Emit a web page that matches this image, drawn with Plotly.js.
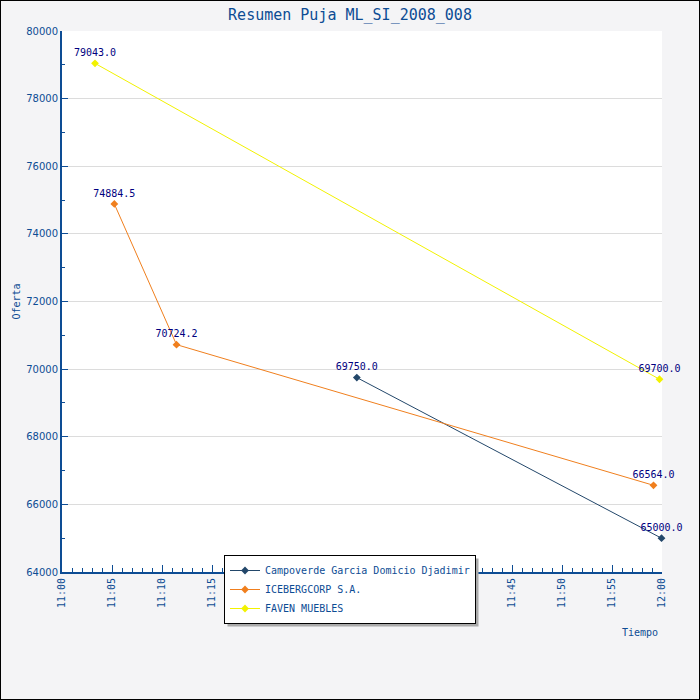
<!DOCTYPE html>
<html>
<head>
<meta charset="utf-8">
<script src="https://cdn.plot.ly/plotly-3.0.1.min.js"></script>
<style>
  html, body { margin: 0; padding: 0; background: #fff; }
  #chart { width: 698px; height: 698px; border: 1px solid #000; }
</style>
</head>
<body>
<div id="chart"></div>
<script>
const DAY = "2008-01-01 ";
const names = ["Campoverde Garcia Domicio Djadimir", "ICEBERGCORP S.A.", "FAVEN MUEBLES"];
const colors = ["#23476a", "#f07f1e", "#f2f200"];

// bid times and offers per bidder
const times_campoverde = ["11:29:29", "11:59:57"];
const offers_campoverde = [69750.0, 65000.0];
const times_iceberg = ["11:05:14", "11:11:27", "11:59:09"];
const offers_iceberg = [74884.5, 70724.2, 66564.0];
const times_faven = ["11:03:18", "11:59:45"];
const offers_faven = [79043.0, 69700.0];

const series = [
  [times_campoverde, offers_campoverde],
  [times_iceberg, offers_iceberg],
  [times_faven, offers_faven],
];

const MONO = "DejaVu Sans Mono, monospace";
const SANS = "DejaVu Sans, sans-serif";
const AXIS_BLUE = "#0d4c94";
const ML = 61, MT = 30, PW = 600, PH = 541;

var data = series.map(function (s, i) {
  return {
    type: "scatter",
    mode: "lines+markers+text",
    name: names[i],
    x: s[0].map(t => DAY + t),
    y: s[1],
    text: s[1].map(v => v.toFixed(1)),
    textposition: "top center",
    textfont: { family: MONO, size: 10, color: "#000080" },
    line: { color: colors[i], width: 1 },
    marker: { symbol: "diamond", size: 6, color: colors[i] },
    cliponaxis: false,
  };
});

var layout = {
  width: 698,
  height: 698,
  margin: { l: ML, r: 698 - ML - PW, t: MT, b: 698 - MT - PH },
  paper_bgcolor: "#f4f4f6",
  plot_bgcolor: "#ffffff",
  font: { family: MONO, color: AXIS_BLUE, size: 10 },
  title: {
    text: "Resumen Puja ML_SI_2008_008",
    font: { family: MONO, size: 15, color: AXIS_BLUE },
    x: 0.5, xanchor: "center", y: 0.981, yanchor: "middle",
  },
  xaxis: {
    type: "date",
    range: [DAY + "11:00", DAY + "12:00"],
    dtick: 300000,
    tick0: DAY + "11:00",
    tickformat: "%H:%M",
    tickangle: -90,
    ticks: "inside",
    ticklen: 7,
    tickcolor: AXIS_BLUE,
    minor: { dtick: 60000, ticks: "inside", ticklen: 4, tickcolor: AXIS_BLUE },
    showgrid: false,
    showline: true,
    linecolor: AXIS_BLUE,
    linewidth: 2,
    zeroline: false,
    tickfont: { family: MONO, size: 10, color: AXIS_BLUE },
  },
  yaxis: {
    range: [64000, 80000],
    dtick: 2000,
    tickformat: "d",
    ticks: "inside",
    ticklen: 6,
    tickcolor: AXIS_BLUE,
    minor: { dtick: 1000, ticks: "inside", ticklen: 3, tickcolor: AXIS_BLUE, showgrid: false },
    showgrid: true,
    gridcolor: "#dcdcdc",
    showline: true,
    linecolor: AXIS_BLUE,
    linewidth: 2,
    zeroline: false,
    tickfont: { family: SANS, size: 10, color: AXIS_BLUE },
    title: { text: "Oferta", font: { family: MONO, size: 10, color: AXIS_BLUE }, standoff: 4 },
  },
  showlegend: true,
  legend: {
    x: (223 - ML) / PW, xanchor: "left",
    y: (MT + PH - 554) / PH, yanchor: "top",
    bgcolor: "#ffffff",
    bordercolor: "#000000",
    borderwidth: 1,
    font: { family: MONO, size: 10, color: AXIS_BLUE },
    itemwidth: 30,
  },
  annotations: [{
    text: "Tiempo", xref: "paper", yref: "paper",
    x: 0.997, xanchor: "right", y: -60 / PH, yanchor: "middle",
    showarrow: false,
    font: { family: MONO, size: 10, color: AXIS_BLUE },
  }],
};

Plotly.newPlot("chart", data, layout, { staticPlot: true }).then(function (gd) {
  // drop shadow behind the legend box, sized from the drawn legend
  var box = gd.querySelector(".legend .bg").getBoundingClientRect();
  var root = gd.getBoundingClientRect();
  var l = box.left - root.left - 1 + 3, r = box.right - root.left - 1 + 3;
  var t = box.top - root.top - 1 + 3, b = box.bottom - root.top - 1 + 3;
  Plotly.relayout(gd, {
    shapes: [{
      type: "rect", xref: "paper", yref: "paper", layer: "above",
      x0: (l - ML) / PW, x1: (r - ML) / PW,
      y0: (MT + PH - b) / PH, y1: (MT + PH - t) / PH,
      fillcolor: "#aaaaaa", line: { width: 0 },
    }],
  });
});
</script>
</body>
</html>
